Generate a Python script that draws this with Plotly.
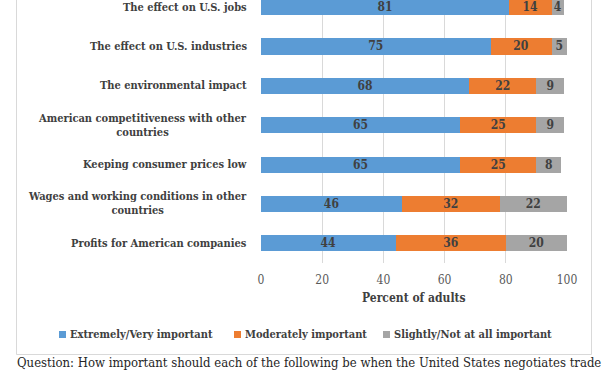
import plotly.graph_objects as go

categories = [
    "Profits for American companies",
    "Wages and working conditions in other<br>countries",
    "Keeping consumer prices low",
    "American competitiveness with other<br>countries",
    "The environmental impact",
    "The effect on U.S. industries",
    "The effect on U.S. jobs",
]
series_names = ["Extremely/Very important", "Moderately important", "Slightly/Not at all important"]
extremely = [44, 46, 65, 65, 68, 75, 81]
moderately = [36, 32, 25, 25, 22, 20, 14]
slightly = [20, 22, 8, 9, 9, 5, 4]
x_ticks = [0, 20, 40, 60, 80, 100]
colors = ["#5B9BD5", "#ED7D31", "#A5A5A5"]

W, H = 609, 374
L, R, T, B = 261, 42, 0, 111
PW, PH = W - L - R, H - T - B

def px(xp):
    return (xp - L) / PW

def py(yp):
    return 1 - (yp - T) / PH

FONT = "DejaVu Serif Condensed, DejaVu Serif, serif"
TXT = "#404040"

fig = go.Figure()
for name, vals, col in zip(series_names, [extremely, moderately, slightly], colors):
    fig.add_trace(go.Bar(
        y=list(range(len(categories))), x=vals, name=name, orientation="h",
        marker=dict(color=col, line=dict(width=0)), width=0.41,
        text=vals, texttemplate="%{text}", textposition="inside",
        insidetextanchor="middle", textangle=0,
        textfont=dict(family=FONT, size=12, color=TXT, weight="bold"),
        showlegend=False, cliponaxis=True, hoverinfo="skip",
    ))

annotations = []
for i, c in enumerate(categories):
    annotations.append(dict(
        x=0, xref="paper", y=i, yref="y", text=c, showarrow=False,
        xanchor="right", yanchor="middle", xshift=-12, align="center",
        font=dict(family=FONT, size=11, color=TXT, weight="bold"),
    ))

annotations.append(dict(
    x=0.5, xref="paper", y=py(298), yref="paper", text="Percent of adults",
    showarrow=False, xanchor="center", yanchor="middle",
    font=dict(family=FONT, size=12, color=TXT, weight="bold"),
))

shapes = []
leg_x = [59, 234, 383]
for name, col, lx in zip(series_names, colors, leg_x):
    shapes.append(dict(type="rect", xref="paper", yref="paper",
                       x0=px(lx), x1=px(lx + 7), y0=py(338), y1=py(331),
                       fillcolor=col, line=dict(width=0)))
    annotations.append(dict(
        x=px(lx + 9), xref="paper", y=py(334.5), yref="paper", text=name,
        showarrow=False, xanchor="left", yanchor="middle",
        font=dict(family=FONT, size=11, color=TXT, weight="bold"),
    ))

shapes.append(dict(type="rect", xref="paper", yref="paper",
                   x0=px(16.5), x1=px(591.5), y0=py(354.5), y1=py(-10),
                   line=dict(color="#D9D9D9", width=1), fillcolor="rgba(0,0,0,0)"))

annotations.append(dict(
    x=px(15), xref="paper", y=py(362), yref="paper",
    text="Question: How important should each of the following be when the United States negotiates trade",
    showarrow=False, xanchor="left", yanchor="middle",
    font=dict(family=FONT, size=13, color="#262626"),
))

fig.update_layout(
    width=W, height=H, margin=dict(l=L, r=R, t=T, b=B),
    barmode="stack", paper_bgcolor="white", plot_bgcolor="white",
    uniformtext=dict(minsize=12, mode="show"),
    annotations=annotations, shapes=shapes, showlegend=False,
    hovermode=False,
    xaxis=dict(range=[0, 100], tickvals=x_ticks, ticks="", showline=False,
               zeroline=False, showgrid=True, gridcolor="#D9D9D9", gridwidth=1,
               tickfont=dict(family=FONT, size=12, color="#595959"),
               ticklabelstandoff=8, fixedrange=True),
    yaxis=dict(range=[-0.5, 6.18], showticklabels=False, showgrid=False,
               zeroline=False, ticks="", fixedrange=True),
)

fig.write_html("out.html", config={"displayModeBar": False, "staticPlot": True},
               post_script="document.body.style.margin='0';document.body.style.overflow='hidden';")
